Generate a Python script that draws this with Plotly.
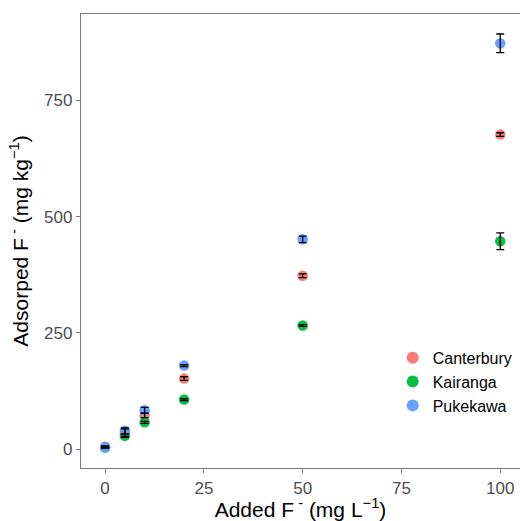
import plotly.graph_objects as go

added = [0, 5, 10, 20, 50, 100]
sites = ["Canterbury", "Kairanga", "Pukekawa"]
colors = ["#F8766D", "#00BA38", "#619CFF"]
adsorbed = {
    "Canterbury": [5.5, 36, 73, 152, 373, 676],
    "Kairanga": [4, 29, 58, 107, 266, 447],
    "Pukekawa": [4.5, 40, 84, 180, 451, 872],
}
errors = {
    "Canterbury": [2, 8, 5, 4, 4, 4],
    "Kairanga": [1, 3, 2, 2, 2, 18],
    "Pukekawa": [1, 6, 6, 2, 7, 20],
}

fig = go.Figure()
for site, col in zip(sites, colors):
    fig.add_trace(go.Scatter(
        x=added, y=adsorbed[site], mode="markers", name=site,
        marker=dict(color=col, size=10.5, opacity=0.95),
    ))
for site in sites:
    fig.add_trace(go.Scatter(
        x=added, y=adsorbed[site], mode="markers", showlegend=False,
        marker=dict(color="rgba(0,0,0,0)", size=1),
        error_y=dict(type="data", array=errors[site], color="black",
                     thickness=1.3, width=4),
        hoverinfo="skip",
    ))

axis_common = dict(
    showgrid=False, zeroline=False, showline=True, linecolor="#7a7a7a",
    linewidth=1.3, ticks="outside", ticklen=4, tickcolor="#7a7a7a",
    tickfont=dict(family="Liberation Sans, Arial", size=17, color="#4d4d4d"),
)
fig.update_layout(
    width=520, height=521, plot_bgcolor="white", paper_bgcolor="white",
    margin=dict(l=81, r=0, t=14, b=53),
    font=dict(family="Liberation Sans, Arial"),
    xaxis=dict(range=[-6.1, 105.0], tickvals=[0, 25, 50, 75, 100],
               mirror=True,
               title=dict(text="Added F<sup> -</sup> (mg L<sup>−1</sup>)",
                          font=dict(size=21, color="black"), standoff=9),
               **axis_common),
    yaxis=dict(range=[-40, 935], tickvals=[0, 250, 500, 750],
               title=dict(text="Adsorped F<sup> -</sup> (mg kg<sup>−1</sup>)",
                          font=dict(size=21, color="black"), standoff=9),
               **axis_common),
    legend=dict(x=0.71, y=0.28, xanchor="left", yanchor="top",
                font=dict(size=16, color="black"), bgcolor="rgba(0,0,0,0)",
                tracegroupgap=0, itemsizing="constant"),
    showlegend=True,
)
fig.write_html("out.html")
